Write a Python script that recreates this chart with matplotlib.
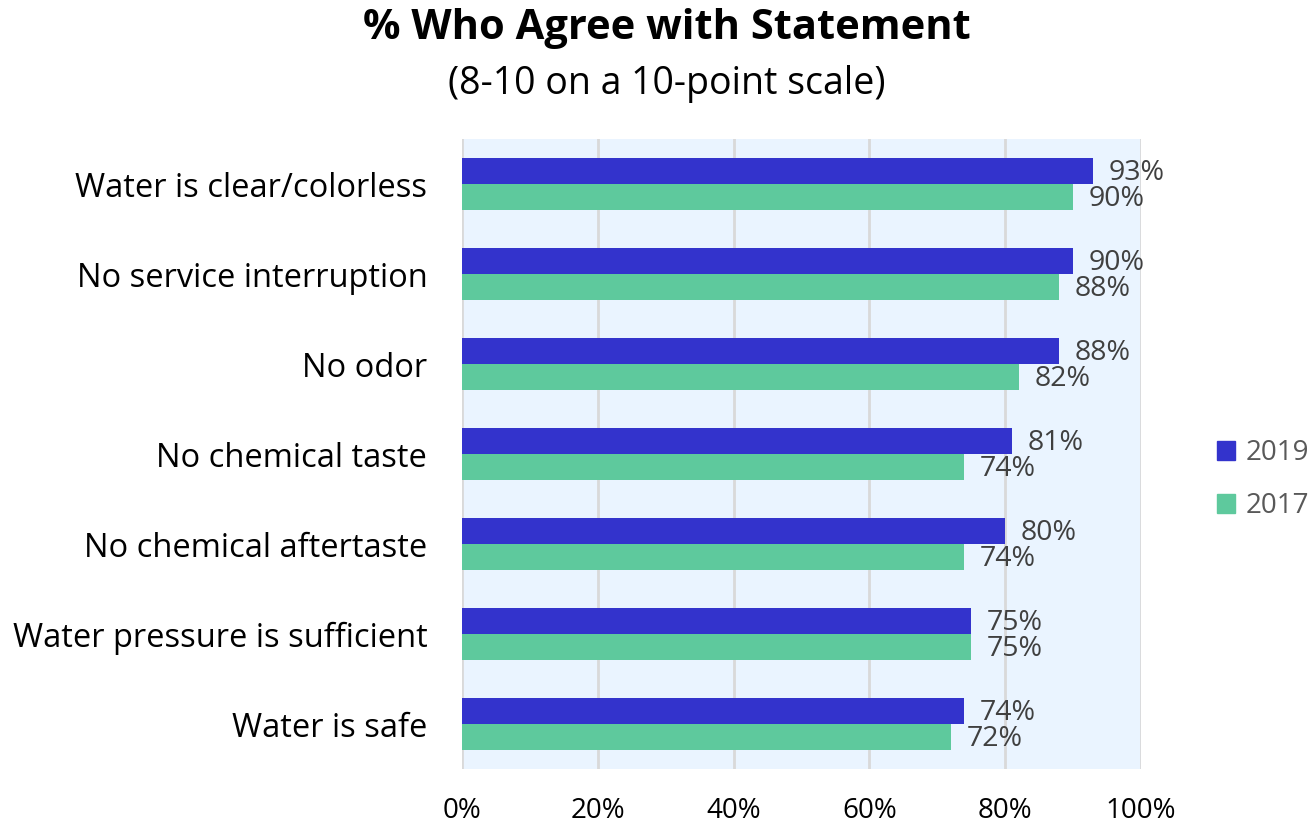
from matplotlib import pyplot as plt
from matplotlib.patches import Patch
import numpy as np

categories = [
    "Water is clear/colorless",
    "No service interruption",
    "No odor",
    "No chemical taste",
    "No chemical aftertaste",
    "Water pressure is sufficient",
    "Water is safe",
]
vals_2019 = [93, 90, 88, 81, 80, 75, 74]
vals_2017 = [90, 88, 82, 74, 74, 75, 72]
xticks = [0, 20, 40, 60, 80, 100]

blue = "#3333CC"
green = "#5EC99D"
font = "Open Sans"

fig = plt.figure(figsize=(13.14, 8.24), dpi=100)
ax = fig.add_axes([0.3516, 0.0667, 0.5167, 0.7646])
ax.set_facecolor("#EAF4FF")

y = np.arange(len(categories))
h = 0.285
ax.barh(y - h / 2, vals_2019, height=h, color=blue, label="2019", zorder=3)
ax.barh(y + h / 2, vals_2017, height=h, color=green, label="2017", zorder=3)

# value labels at the end of each bar
for yi, v in zip(y, vals_2019):
    ax.text(v + 2.3, yi - h / 2 + 0.02, f"{v}%", va="center", ha="left",
            fontsize=20.5, color="#404040", family=font, zorder=4)
for yi, v in zip(y, vals_2017):
    ax.text(v + 2.3, yi + h / 2 + 0.02, f"{v}%", va="center", ha="left",
            fontsize=20.5, color="#404040", family=font, zorder=4)

ax.set_xlim(0, 100)
ax.set_ylim(len(categories) - 0.5, -0.5)
ax.set_xticks(xticks)
ax.set_xticklabels([f"{t}%" for t in xticks], fontsize=20, family=font)
ax.set_yticks(y)
ax.set_yticklabels(categories, fontsize=23.5, family=font)
ax.tick_params(axis="both", length=0)
ax.tick_params(axis="x", pad=20)
ax.tick_params(axis="y", pad=25)
ax.grid(axis="x", color="#D9D9D9", linewidth=2, zorder=1)
for s in ax.spines.values():
    s.set_visible(False)

fig.text(0.5076, 0.965, "% Who Agree with Statement", ha="center", va="center",
         fontsize=30, fontweight="bold", family=font)
fig.text(0.5076, 0.898, "(8-10 on a 10-point scale)", ha="center", va="center",
         fontsize=27, family=font)

handles = [Patch(color=blue, label="2019"), Patch(color=green, label="2017")]
fig.legend(handles=handles, loc="center left", bbox_to_anchor=(0.926, 0.418),
           frameon=False, handlelength=0.65, handleheight=0.65,
           handletextpad=0.4, labelspacing=0.9, labelcolor="#595959",
           borderaxespad=0, borderpad=0,
           prop={"family": font, "size": 20})

plt.savefig("out.png")
